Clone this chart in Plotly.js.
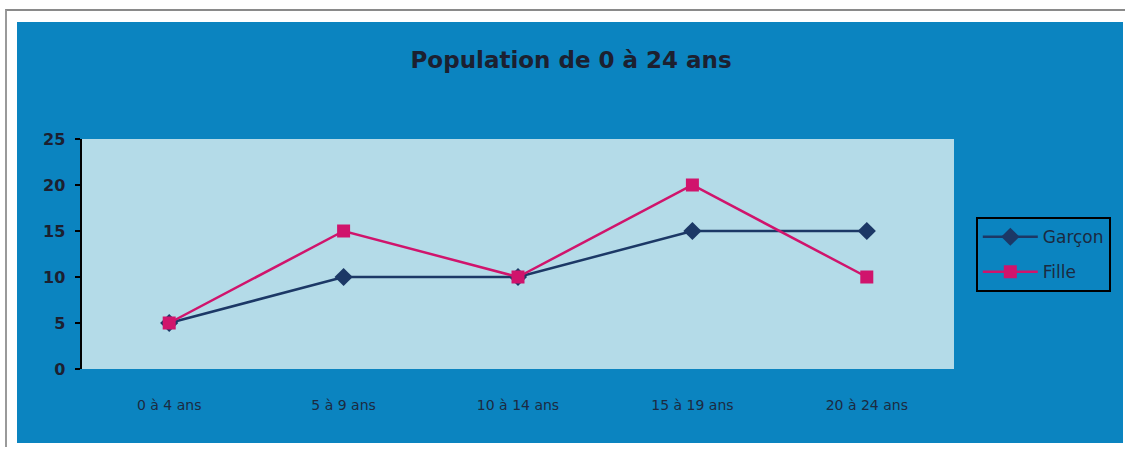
<!DOCTYPE html>
<html>
<head>
<meta charset="utf-8">
<script src="https://cdn.plot.ly/plotly-3.0.1.min.js"></script>
<style>
  html, body { margin: 0; padding: 0; background: #ffffff; width: 1125px; height: 449px; overflow: hidden; }
  #frame { position: absolute; left: 5px; top: 9px; width: 1125px; height: 438px; border-top: 2px solid #8a8a8a; border-left: 2px solid #9a9a9a; box-sizing: border-box; }
  #chart { position: absolute; left: 17px; top: 22px; width: 1106px; height: 421px; }
</style>
</head>
<body>
<div id="frame"></div>
<div id="chart"></div>
<script>
const categories = ["0 à 4 ans", "5 à 9 ans", "10 à 14 ans", "15 à 19 ans", "20 à 24 ans"];
const garcon = [5, 10, 10, 15, 15];
const fille = [5, 15, 10, 20, 10];
const yTicks = [0, 5, 10, 15, 20, 25];
const chartTitle = "Population de 0 à 24 ans";

const traces = [
  {
    x: categories, y: garcon, name: "Garçon", type: "scatter", mode: "lines+markers",
    legendgroup: "g1",
    line: { color: "#1c3866", width: 2.5 },
    marker: { symbol: "diamond", size: 14, color: "#1c3866" }
  },
  {
    x: categories, y: fille, name: "Fille", type: "scatter", mode: "lines+markers",
    legendgroup: "g2",
    line: { color: "#d0146c", width: 2.5 },
    marker: { symbol: "square", size: 13, color: "#d0146c" }
  }
];

const layout = {
  width: 1106, height: 421,
  paper_bgcolor: "#0b84c0",
  plot_bgcolor: "#b4dbe8",
  margin: { l: 65, r: 169, t: 117, b: 74 },
  font: { family: "DejaVu Sans, sans-serif", color: "#1a2233" },
  title: {
    text: chartTitle,
    font: { size: 23, color: "#1c2030", family: "DejaVu Sans, sans-serif", weight: 700 },
    x: 0.501, xref: "container", xanchor: "center", y: 0.91, yanchor: "middle"
  },
  xaxis: {
    type: "category",
    showgrid: false, zeroline: false, showline: false,
    ticks: "", ticklabelstandoff: 26,
    tickfont: { size: 14, color: "#1c2a40" },
    range: [-0.5, 4.5]
  },
  yaxis: {
    range: [0, 25], tickvals: yTicks,
    showgrid: false, zeroline: false,
    showline: true, linecolor: "#000000", linewidth: 2.5,
    ticks: "outside", ticklen: 5, tickwidth: 2.5, tickcolor: "#000000",
    ticklabelstandoff: 6,
    tickfont: { size: 16, color: "#1c2030", weight: 700 }
  },
  showlegend: true,
  legend: {
    x: 1.025, y: 0.66, xanchor: "left", yanchor: "top",
    bgcolor: "rgba(0,0,0,0)", bordercolor: "#000000", borderwidth: 2,
    font: { size: 17, color: "#1c2a40" },
    itemwidth: 55, tracegroupgap: 10
  }
};

Plotly.newPlot("chart", traces, layout, { displayModeBar: false, staticPlot: true });
</script>
</body>
</html>
